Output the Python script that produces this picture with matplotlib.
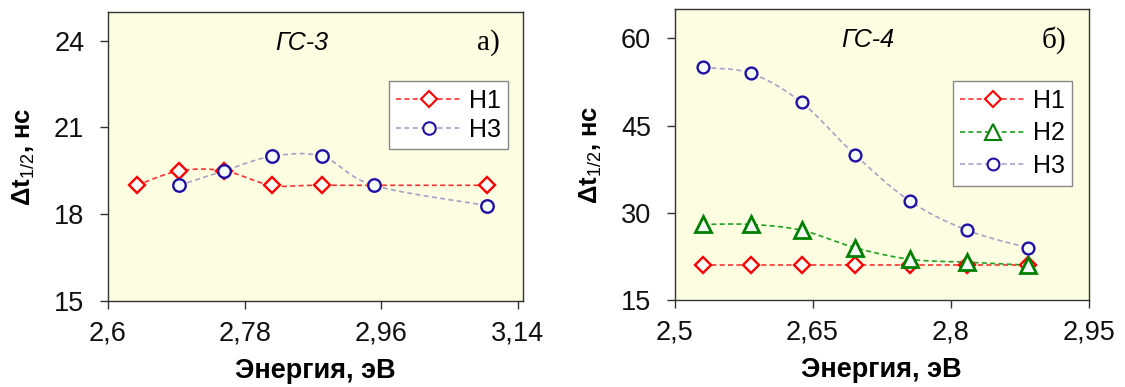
import numpy as np
import matplotlib
matplotlib.use("Agg")
import matplotlib.pyplot as plt

plt.rcParams['font.family'] = ['Liberation Sans', 'DejaVu Sans']
plt.rcParams['mathtext.fontset'] = 'custom'
plt.rcParams['mathtext.rm'] = 'Liberation Sans'
plt.rcParams['mathtext.it'] = 'Liberation Sans:italic'
plt.rcParams['mathtext.bf'] = 'Liberation Sans:bold'

# ГС-3 (panel a)
e3_h1 = [2.638, 2.694, 2.753, 2.816, 2.882, 3.099]
t3_h1 = [19.0, 19.5, 19.5, 19.0, 19.0, 19.0]
e3_h3 = [2.694, 2.753, 2.816, 2.882, 2.950, 3.099]
t3_h3 = [19.0, 19.5, 20.0, 20.0, 19.0, 18.3]

# ГС-4 (panel b)
e4 = [2.531, 2.583, 2.638, 2.696, 2.756, 2.818, 2.884]
t4_h1 = [21, 21, 21, 21, 21, 21, 21]
t4_h2 = [28, 28, 27, 24, 22, 21.5, 21]
t4_h3 = [55, 54, 49, 40, 32, 27, 24]

BG = '#fdfde2'


def smooth(x, y, n=25):
    # Bezier smoothing through the points (like Excel "smoothed line")
    x = np.asarray(x, float)
    y = np.asarray(y, float)
    px, py = [x[0]], [y[0]]
    for i in range(len(x) - 1):
        x0, y0 = (x[i - 1], y[i - 1]) if i > 0 else (x[i], y[i])
        x3, y3 = (x[i + 2], y[i + 2]) if i + 2 < len(x) else (x[i + 1], y[i + 1])
        c1x = x[i] + (x[i + 1] - x0) / 6
        c1y = y[i] + (y[i + 1] - y0) / 6
        c2x = x[i + 1] - (x3 - x[i]) / 6
        c2y = y[i + 1] - (y3 - y[i]) / 6
        t = np.linspace(0, 1, n)[1:]
        a, b, c, d = (1 - t) ** 3, 3 * (1 - t) ** 2 * t, 3 * (1 - t) * t ** 2, t ** 3
        px.extend(a * x[i] + b * c1x + c * c2x + d * x[i + 1])
        py.extend(a * y[i] + b * c1y + c * c2y + d * y[i + 1])
    return px, py


def series(ax, x, y, lc, mc, marker, ms, label, mew=1.7, lw=1.2):
    sx, sy = smooth(x, y)
    ax.plot(sx, sy, color=lc, lw=lw, ls=(0, (3, 2)), zorder=2)
    ax.plot(x, y, ls='none', marker=marker, ms=ms, mec=mc, mfc='#f6fbf8',
            mew=mew, zorder=3)
    ax.plot([], [], color=lc, lw=lw, ls=(0, (3, 2)), marker=marker, ms=ms,
            mec=mc, mfc='white', mew=1.5, label=label)


def style(ax):
    ax.set_facecolor(BG)
    for s in ax.spines.values():
        s.set_color('#333333')
        s.set_linewidth(1.0)
    ax.tick_params(axis='x', direction='out', length=6, width=1, labelsize=19.5,
                   color='#333333', labelcolor='#111111', pad=8)
    ax.tick_params(axis='y', direction='out', length=6, width=1, labelsize=19.5,
                   color='#333333', labelcolor='#111111', pad=11)
    ax.set_xlabel('Энергия, эВ', fontsize=19.5, fontweight='bold', labelpad=8)
    ax.set_ylabel(r'$\mathbf{\Delta t}_{1/2}$, нс', fontsize=18.5,
                  fontweight='bold', labelpad=12)


def legend(ax, right, top, spacing):
    leg = ax.legend(loc='upper right', bbox_to_anchor=(right, top),
                    fontsize=18, frameon=True, fancybox=False, handlelength=2.6,
                    borderpad=0.3, labelspacing=spacing, handletextpad=0.3,
                    borderaxespad=0)
    leg.get_frame().set_edgecolor('#888888')
    leg.get_frame().set_facecolor('white')
    leg.get_frame().set_alpha(1)


fig = plt.figure(figsize=(11.25, 3.87), dpi=100)

# panel a
ax1 = fig.add_axes([0.096, 0.2222, 0.3689, 0.7475])
style(ax1)
series(ax1, e3_h1, t3_h1, '#ff3030', '#ff0000', 'D', 8, 'H1')
series(ax1, e3_h3, t3_h3, '#a8a0c8', '#2010a8', 'o', 9, 'H3')
ax1.set_xlim(2.6, 3.147)
ax1.set_ylim(15, 25)
ax1.set_xticks([2.6, 2.78, 2.96, 3.14])
ax1.set_xticklabels(['2,6', '2,78', '2,96', '3,14'])
ax1.set_yticks([15, 18, 21, 24])
ax1.text(0.467, 0.892, 'ГС-3', transform=ax1.transAxes, fontsize=18,
         style='italic', ha='center', va='center')
ax1.text(0.945, 0.892, 'а)', transform=ax1.transAxes, fontsize=21,
         family='Liberation Serif', ha='right', va='center')
legend(ax1, 0.964, 0.76, 0.2)

# panel b
ax2 = fig.add_axes([0.5996, 0.2248, 0.368, 0.751])
style(ax2)
series(ax2, e4, t4_h1, '#ff3030', '#ff0000', 'D', 8, 'H1')
series(ax2, e4, t4_h2, '#20a020', '#008000', '^', 11.5, 'H2', mew=2)
series(ax2, e4, t4_h3, '#a8a0c8', '#2010a8', 'o', 8.5, 'H3')
ax2.set_xlim(2.5, 2.95)
ax2.set_ylim(15, 65)
ax2.set_xticks([2.5, 2.65, 2.8, 2.95])
ax2.set_xticklabels(['2,5', '2,65', '2,8', '2,95'])
ax2.set_yticks([15, 30, 45, 60])
ax2.text(0.467, 0.895, 'ГС-4', transform=ax2.transAxes, fontsize=18,
         style='italic', ha='center', va='center')
ax2.text(0.945, 0.895, 'б)', transform=ax2.transAxes, fontsize=21,
         family='Liberation Serif', ha='right', va='center')
legend(ax2, 0.961, 0.753, 0.35)

fig.savefig('out.png', dpi=100, facecolor='white')
